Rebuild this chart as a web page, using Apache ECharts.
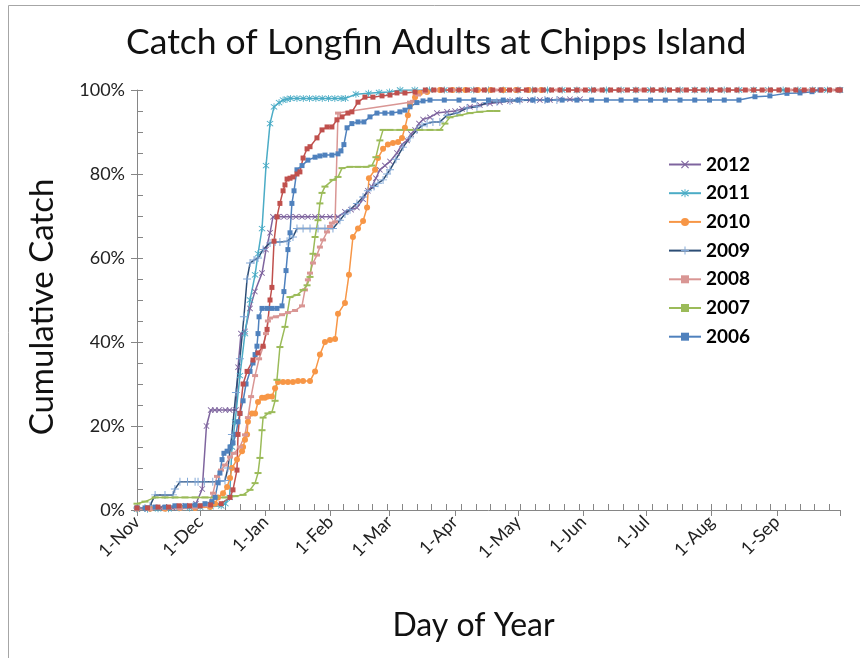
<!DOCTYPE html>
<html>
<head>
<meta charset="utf-8">
<script src="https://cdn.jsdelivr.net/npm/echarts@6/dist/echarts.min.js"></script>
<style>
  html, body { margin: 0; padding: 0; background: #fff; }
  #chart { width: 860px; height: 658px; }
</style>
</head>
<body>
<div id="chart"></div>
<script>
// x = days since 1-Nov, y = cumulative catch (%)
var monthDays = [0, 30, 61, 92, 120, 151, 181, 212, 242, 273, 304];
var monthLabels = ['1-Nov', '1-Dec', '1-Jan', '1-Feb', '1-Mar', '1-Apr', '1-May', '1-Jun', '1-Jul', '1-Aug', '1-Sep'];
var yTicks = [0, 20, 40, 60, 80, 100];

var catch2012 = [[0,0.3],[5,0.3],[11,0.5],[17,0.5],[23,1],[28,1.5],[31,5],[33,20],[35,23.8],[37,23.8],[39,23.8],[42,23.8],[44,23.8],[47,23.8],
  [48,34],[49.4,42],[51.3,42.5],[53.7,48],[56,52],[59.4,56.4],[61.3,62],[63.2,66],[64.6,69.8],[67,69.8],[69.8,69.8],[72.7,69.8],[75.5,69.8],
  [78.4,69.8],[81.2,69.8],[84.6,69.8],[87.9,69.8],[91.7,69.8],[95.5,69.8],[98.8,71],[101.7,71.5],[104.5,72],[107.4,74],[109.7,76],[111.6,77],
  [113.5,79],[115.4,81],[117.8,82],[120.2,83],[123.5,85],[125.9,87],[128.3,88],[130.2,89.5],[132.1,90.5],[134,92],[135.9,93],[139.2,93.5],
  [142.5,94.5],[147.3,94.8],[151.1,95],[154.4,95.5],[158.2,96],[162.9,96.4],[167.7,96.8],[172.4,97.1],[177.2,97.4],[181.9,97.6],[186.7,97.6],
  [191.4,97.6],[196.2,97.6],[201,97.8],[205.7,97.8],[210.5,97.8]];

var catch2011 = [[0,0.2],[5,0.2],[10,0.3],[15,0.3],[20,0.5],[25,0.5],[30,0.7],[35,0.8],[40,1],[42,1.5],[44,3],[45.1,15],[46.6,21],[48.9,32],
  [51.3,42],[53.7,50],[56.1,56],[57.5,61],[59.4,67],[61.3,82],[63.2,92],[65.1,96],[67.5,97],[69.4,97.6],[71.3,97.8],[73,98],[76,98],[79,98],
  [82,98],[85,98],[88,98],[91,98],[94,98],[97,98],[99,98],[104,99],[110,99.2],[115,99.4],[120,99.5],[125,100],[132,100],[139,100],[146,100],
  [153,100],[160,100],[167,100],[174,100],[181,100],[188,100],[195,100],[202,100],[209,100],[216,100],[223,100],[230,100],[237,100],[244,100],
  [251,100],[258,100],[265,100],[272,100],[279,100],[286,100],[293,100],[300,100],[307,100],[314,100],[321,100],[328,100],[334,100]];

var catch2010 = [[0,0.3],[6.2,0.3],[13.3,0.3],[20.4,0.5],[27.6,0.5],[34.7,0.7],[37.1,1.5],[38.5,3],[40.9,4],[42.8,5.5],[44.2,7.6],[45.1,10],
  [47.5,12],[49.9,14],[50.4,15],[51.3,16.7],[52.3,18],[52.7,21],[54.6,23],[56.1,23],[57.5,25.7],[59.4,26.7],[60.8,26.7],[62.2,27],[64.1,27],
  [65.6,29],[67,30.5],[69.4,30.5],[71.7,30.5],[74.1,30.5],[76.5,30.7],[78.9,30.7],[82.2,30.7],[84.6,33],[86.9,37],[89.3,40],[91.7,40.5],
  [94.1,40.7],[95.5,46.7],[98.8,49.3],[100.7,56],[102.6,65],[105,67],[107.4,68.8],[109.3,72],[110.2,79],[113.1,81],[114.5,83.8],[116.9,86],
  [119.2,87],[121.6,87.4],[124,87.6],[125.9,88.6],[127.3,91],[128.7,94],[129.7,96.4],[132.1,98.3],[134.4,99.3],[137.8,99.5],[143.9,100],
  [150,100],[156,100],[162,100],[168,100],[174,100],[180,100],[186,100],[192,100]];

var catch2009 = [[0,0.5],[3.8,0.5],[6.2,1],[8.6,3.6],[13.3,3.6],[17.1,3.6],[18,5],[20.4,6.7],[24,6.7],[27.6,6.7],[29,6.7],[32,6.7],[36,6.7],
  [39.4,6.8],[41.8,7],[43.2,10],[45.1,18],[47,28],[48.9,36],[50.8,46],[52.3,55],[53.7,58.8],[55.6,59.5],[57.5,60],[59.9,62],[63.2,63.6],
  [65.6,63.8],[67.9,63.8],[71.3,64],[74.1,65],[76,67],[78.9,67],[82.2,67],[86,67],[89.3,67],[93.1,67],[96.4,69],[98.8,70.5],[101.2,71.5],
  [104.5,73],[107.4,74.5],[109.7,76],[112.6,77],[114.5,77.8],[116.9,78.6],[118.8,80],[120.2,81],[123,83.5],[126.4,86.4],[129.7,88.6],
  [133,90.5],[135.4,91.5],[137.8,92],[140.6,92.4],[143.9,92.4],[147.3,94],[152,94.5],[156.8,95.7],[161.5,96],[166.3,97],[171,97.2],
  [177.2,97.4],[181.9,97.5],[189.1,97.6],[193.8,97.6],[199.5,97.6]];

var catch2008 = [[0,0.2],[6.2,0.2],[13.3,0.3],[20.4,0.3],[27.6,0.5],[33.7,1],[36.1,4],[38,8],[39.9,9.5],[41.8,10.7],[44.2,12.6],[46.1,13.5],
  [48.9,15],[51.3,17.9],[52.7,22],[54.2,27],[56.1,32],[58,36],[59.9,38.8],[61.3,42],[62.2,45],[63.2,45.7],[66,46],[68.9,46.5],[71.7,47],
  [75.1,47.5],[78.4,48.6],[79.8,52.4],[81.2,54.8],[82.2,56.4],[83.6,58.8],[85.5,60.7],[86.9,62.6],[88.4,64.3],[90.3,66.2],[91.7,67.5],
  [92.6,68.3],[94.1,68.6],[95.5,94.5],[129.7,97.1],[131.1,97.3],[133.5,98.8],[136.8,99.5],[141.6,100],[150,100],[160,100],[170,100],
  [180,100],[190,100],[200,100],[210,100],[220,100],[230,100],[240,100],[250,100],[260,100],[270,100],[280,100],[290,100],[300,100],
  [310,100],[320,100],[330,100],[334,100]];

var catch2007 = [[0,1.5],[3.8,2],[8.6,3],[13.3,3],[18,3],[22.8,3],[27.6,3],[32.3,3],[37.1,3],[41.8,3],[46.6,3.3],[50.4,3.6],[53.7,4.8],
  [56.1,6.4],[57.5,8.8],[58.4,12.4],[59.4,19],[59.9,22],[62.2,23],[64.1,23.3],[65.6,26],[66.5,31],[67.9,38.8],[70.3,43.6],[72.7,50.7],
  [76,51.2],[78.9,52.4],[80.8,53.5],[82.2,55.5],[83.6,61],[84.6,65],[86,69],[86.9,73],[87.9,75.5],[89.3,77],[93.1,78.6],[95.5,79.3],
  [97.4,81.4],[101.2,81.7],[105,81.7],[108.8,81.7],[111.6,82],[113.5,84],[115.4,88],[116.9,90.5],[120.2,90.5],[124.9,90.5],[129.7,90.5],
  [134.4,90.5],[139.2,90.5],[143.9,90.5],[146.3,92],[148.7,93.5],[153.4,94],[158.2,94.5],[162.9,94.8],[167.7,95],[171,95]];

var catch2006 = [[0,0.5],[3.8,0.5],[8.6,0.7],[13.3,0.7],[18,1],[22.8,1],[27.6,1.2],[32.3,1.5],[35.6,2],[37.1,3],[38.5,6.5],[39.4,8.8],
  [40.4,12],[41.3,13.5],[42.8,14],[44.2,15],[45.6,16],[47,18],[48,21],[48.9,23],[50.4,26],[51.8,30],[53.7,33],[55.1,35],[56.1,37],[57,39],
  [57.5,42],[58,46],[59.4,48],[61.8,48],[64.1,48],[66.5,48],[68.9,48.6],[69.8,52],[70.8,57],[71.7,62],[72.7,66],[73.6,73],[74.6,76],
  [76,81],[78.4,82],[81.2,83.3],[84.6,84],[86.9,84.3],[89.3,84.5],[92.6,84.5],[95.5,84.8],[96.9,85.5],[98.3,87],[99.8,91],[102.1,92],
  [105,92.4],[107.8,92.4],[110.7,93.6],[114,94.5],[117.8,94.5],[121.1,94.5],[124.9,94.8],[127.3,95.2],[129.7,96],[133,97],[135.9,97.4],
  [139.2,97.6],[146,97.6],[153,97.6],[160,97.6],[167,97.6],[174,97.6],[181,97.6],[188,97.6],[195,97.6],[202,97.6],[209,97.6],[216,97.6],
  [223,97.6],[230,97.6],[237,97.6],[244,97.6],[251,97.6],[258,97.6],[265,97.6],[272,97.6],[279,97.6],[286,97.6],[293.6,98.4],[300.7,98.6],
  [308.8,99.2],[315,99.3],[320.7,99.6],[324.5,100],[334,100]];

// unlabelled series (no legend entry in the original)
var catchOther = [[0,0.5],[5,0.5],[10,0.7],[15,0.7],[20,1],[25,1],[30,1],[35,1.2],[40,1.5],[44.2,3],[45.6,4.8],[47.5,9.5],[48,18],[48.9,23],
  [50.4,30],[52.3,33],[55.1,35.7],[57.5,37.4],[59.9,39],[61.8,43],[63.2,50],[64.1,53],[65.1,64],[66.5,69.8],[67.9,73],[69.4,76],[70.3,77.4],
  [71.3,78.8],[72.7,79],[74.1,79.3],[76,80],[77.4,80.5],[78.9,83.8],[80.8,86],[82.2,86.5],[85.5,88.6],[87.9,90.5],[90.3,91.2],[92.6,91.2],
  [95,92.9],[97.4,93.6],[100.2,94.5],[102.1,94.8],[105,97.1],[108.3,98.3],[112.1,98.3],[116.4,98.6],[120.2,98.8],[123.5,99.3],[127.3,99.3],
  [132.1,99.5],[137,100],[141,100],[145,100],[149,100],[153,100],[157,100],[161,100],[165,100],[169,100],[173,100],[177,100],[181,100],
  [185,100],[189,100],[193,100],[197,100],[201,100],[205,100],[209,100],[213,100],[217,100],[221,100],[225,100],[229,100],[233,100],
  [237,100],[241,100],[245,100],[249,100],[253,100],[257,100],[261,100],[265,100],[269,100],[273,100],[277,100],[281,100],[285,100],
  [289,100],[293,100],[297,100],[301,100],[305,100],[309,100],[313,100],[317,100],[321,100],[325,100],[329,100],[333,100],[334,100]];

var weekDays = [];
for (var d = 7; d < 334; d += 7) weekDays.push(d);

var FONT = 'Lato';
var AXIS_GREY = '#868686';

var symX = 'path://M0,1L1,0L5,4L9,0L10,1L6,5L10,9L9,10L5,6L1,10L0,9L4,5Z';
var symStar = 'path://M0,1L1,0L5,4L9,0L10,1L6,5L10,9L9,10L5,6L1,10L0,9L4,5Z M4.4,-1L5.6,-1L5.6,11L4.4,11Z';
var symPlus = 'path://M4.4,0L5.6,0L5.6,4.4L10,4.4L10,5.6L5.6,5.6L5.6,10L4.4,10L4.4,5.6L0,5.6L0,4.4L4.4,4.4Z';

function lineSeries(name, data, color, symbol, size, lineColor) {
  return {
    name: name,
    type: 'line',
    data: data,
    symbol: symbol,
    symbolSize: size,
    showSymbol: true,
    itemStyle: { color: color },
    lineStyle: { color: lineColor || color, width: 1.5 },
    emphasis: { disabled: true }
  };
}

var chart = echarts.init(document.getElementById('chart'));
chart.setOption({
  animation: false,
  backgroundColor: '#fff',
  title: {
    text: 'Catch of Longfin Adults at Chipps Island',
    left: 121,
    top: 20,
    textStyle: { fontFamily: FONT, fontSize: 35.5, fontWeight: 'normal', color: '#111' }
  },
  graphic: [{
    type: 'rect',
    shape: { x: 8.5, y: 5.5, width: 900, height: 700 },
    style: { fill: 'none', stroke: '#a6a6a6', lineWidth: 1 },
    silent: true
  }],
  legend: {
    orient: 'vertical',
    left: 663,
    top: 149,
    itemWidth: 32,
    itemHeight: 10,
    itemGap: 7.7,
    data: ['2012', '2011', '2010', '2009', '2008', '2007', '2006'],
    textStyle: { fontFamily: FONT, fontSize: 19, fontWeight: 'bold', color: '#000', lineHeight: 21 }
  },
  grid: { left: 137, right: 20, top: 90, bottom: 148, containLabel: false },
  xAxis: [{
    type: 'value',
    min: 0,
    max: 334,
    name: 'Day of Year',
    nameLocation: 'middle',
    nameGap: 100,
    nameTextStyle: { fontFamily: FONT, fontSize: 32, color: '#111', padding: [0, 30, 0, 0] },
    axisLine: { lineStyle: { color: AXIS_GREY } },
    axisTick: { show: true, inside: false, length: 6, customValues: monthDays.concat([334]), lineStyle: { color: AXIS_GREY } },
    axisLabel: {
      customValues: monthDays,
      rotate: 45,
      margin: 9,
      fontFamily: FONT,
      fontSize: 18,
      color: '#222',
      formatter: function (v) { return monthLabels[monthDays.indexOf(v)] || ''; }
    },
    splitLine: { show: false }
  }, {
    type: 'value',
    min: 0,
    max: 334,
    position: 'bottom',
    axisLine: { show: false, onZero: false },
    axisTick: { show: true, inside: true, length: 6, customValues: weekDays, lineStyle: { color: AXIS_GREY } },
    axisLabel: { show: false },
    splitLine: { show: false }
  }],
  yAxis: [{
    type: 'value',
    min: 0,
    max: 100,
    interval: 20,
    name: 'Cumulative Catch',
    nameLocation: 'middle',
    nameGap: 78,
    nameTextStyle: { fontFamily: FONT, fontSize: 33, color: '#111', padding: [0, 14, 0, 0] },
    axisLine: { show: true, lineStyle: { color: AXIS_GREY } },
    axisTick: { show: true, inside: false, length: 6, lineStyle: { color: AXIS_GREY } },
    axisLabel: {
      margin: 12,
      fontFamily: FONT,
      fontSize: 18,
      color: '#222',
      formatter: function (v) { return yTicks.indexOf(v) >= 0 ? v + '%' : ''; }
    },
    splitLine: { show: false }
  }, {
    type: 'value',
    min: 0,
    max: 100,
    interval: 5,
    position: 'left',
    axisLine: { show: false, onZero: false },
    axisTick: { show: true, inside: true, length: 6, lineStyle: { color: AXIS_GREY } },
    axisLabel: { show: false },
    splitLine: { show: false }
  }],
  series: [
    lineSeries('2012', catch2012, '#7E649E', symX, 6),
    lineSeries('2011', catch2011, '#4BACC6', symStar, 7),
    lineSeries('2010', catch2010, '#F79646', 'circle', 6),
    lineSeries('2009', catch2009, '#7FA6D6', symPlus, 8, '#2C4D75'),
    lineSeries('2008', catch2008, '#D99694', 'rect', [6, 3]),
    lineSeries('2007', catch2007, '#9BBB59', 'rect', [7, 2]),
    lineSeries('2006', catch2006, '#4F81BD', 'rect', 5),
    lineSeries('Other', catchOther, '#C0504D', 'rect', 5)
  ]
});
</script>
</body>
</html>
